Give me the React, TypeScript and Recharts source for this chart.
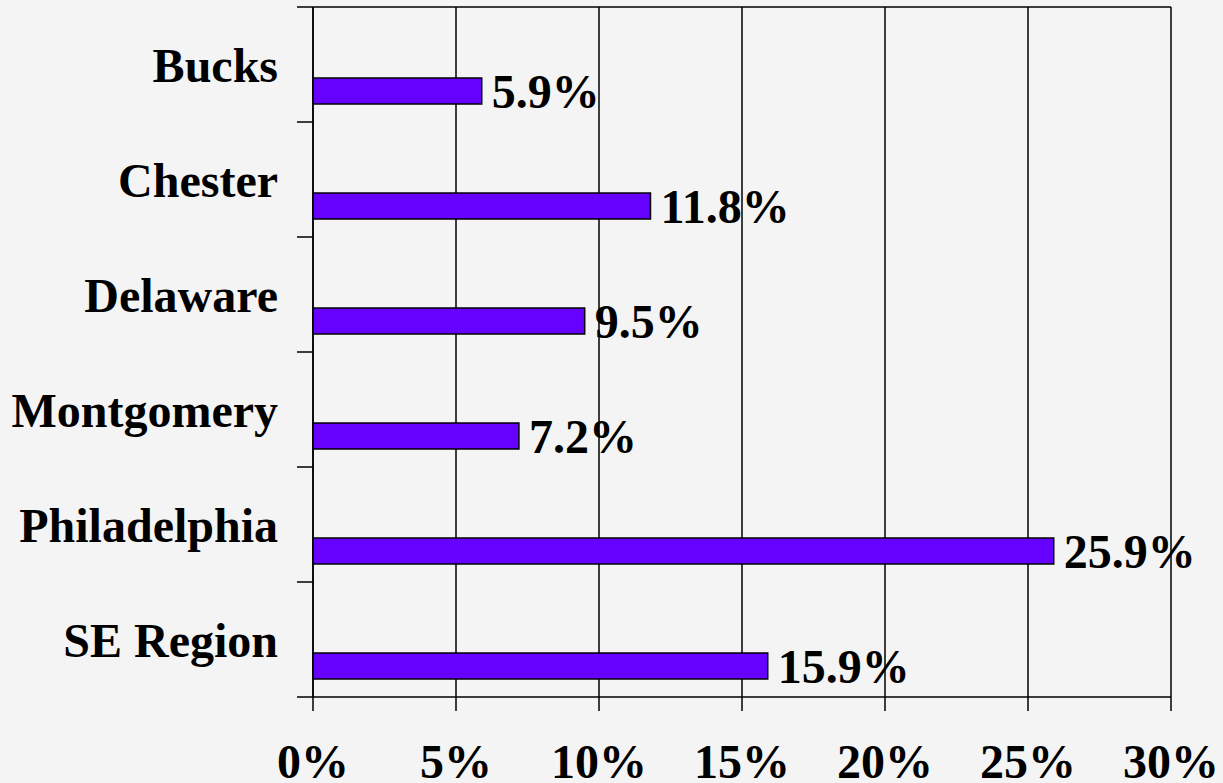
import React from 'react';
import { BarChart, Bar, XAxis, YAxis, CartesianGrid, LabelList } from 'recharts';

const counties = ['Bucks', 'Chester', 'Delaware', 'Montgomery', 'Philadelphia', 'SE Region'];
const shares = [5.9, 11.8, 9.5, 7.2, 25.9, 15.9];
const xTicks = [0, 5, 10, 15, 20, 25, 30];

const data = counties.map((name, i) => ({ name, value: shares[i] }));

const FONT = '"Liberation Serif", "Times New Roman", serif';
const FONT_SIZE = 48;
const BAR_SHIFT = 26;

const ShiftedBar = (props: any) => {
  const { x, y, width, height } = props;
  return (
    <rect x={x} y={y + BAR_SHIFT} width={width} height={height} fill="#6600ff" stroke="#000" strokeWidth={1.5} />
  );
};

const ValueLabel = (props: any) => {
  const { x, y, width, height, value } = props;
  return (
    <text
      x={x + width + 10}
      y={y + height / 2 + BAR_SHIFT}
      dy="0.36em"
      fontFamily={FONT}
      fontWeight="bold"
      fontSize={FONT_SIZE}
      fill="#000"
    >
      {value}%
    </text>
  );
};

const CountyTick = (props: any) => {
  const { x, y, payload, index } = props;
  const half = payload?.offset || 57.5;
  const last = index === counties.length - 1;
  return (
    <g>
      <text x={x} y={y} dy="0.37em" textAnchor="end" fontFamily={FONT} fontWeight="bold" fontSize={FONT_SIZE} fill="#000">
        {payload.value}
      </text>
      <line x1={x + 19} x2={x + 35} y1={y - half} y2={y - half} stroke="#000" strokeWidth={1.5} />
      {last && <line x1={x + 19} x2={x + 35} y1={y + half} y2={y + half} stroke="#000" strokeWidth={1.5} />}
    </g>
  );
};

const App: React.FC = () => {
  return (
    <div style={{ position: 'fixed', left: 0, top: 0, width: 1223, height: 783, background: '#f4f4f4' }}>
      <BarChart
        width={1223}
        height={783}
        data={data}
        layout="vertical"
        margin={{ top: 7, right: 52, left: 0, bottom: 0 }}
        barSize={26}
      >
        <CartesianGrid horizontalPoints={[7]} stroke="#000" strokeWidth={1.5} />
        <XAxis
          type="number"
          domain={[0, 30]}
          ticks={xTicks}
          tickFormatter={(v) => `${v}%`}
          height={86}
          tickSize={14}
          tickMargin={33}
          axisLine={{ stroke: '#000', strokeWidth: 1.5 }}
          tickLine={{ stroke: '#000', strokeWidth: 1.5 }}
          tick={{ fill: '#000', fontFamily: FONT, fontWeight: 'bold', fontSize: FONT_SIZE }}
          interval={0}
        />
        <YAxis
          type="category"
          dataKey="name"
          width={313}
          tickSize={16}
          tickMargin={19}
          tickLine={false}
          axisLine={{ stroke: '#000', strokeWidth: 1.5 }}
          tick={<CountyTick />}
          interval={0}
        />
        <Bar dataKey="value" shape={<ShiftedBar />} isAnimationActive={false}>
          <LabelList dataKey="value" content={<ValueLabel />} />
        </Bar>
      </BarChart>
    </div>
  );
};

export default App;
